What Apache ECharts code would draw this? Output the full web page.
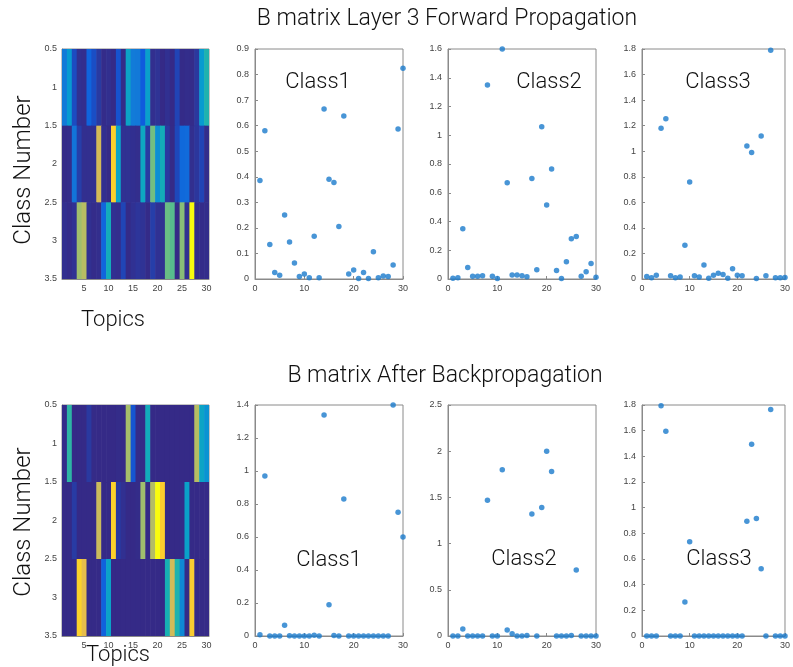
<!DOCTYPE html>
<html><head><meta charset="utf-8">
<script src="https://cdn.jsdelivr.net/npm/echarts@6/dist/echarts.min.js"></script>
<style>html,body{margin:0;padding:0;background:#fff}#c{width:793px;height:667px}</style>
</head><body><div id="c"></div>
<script>
// ---- data ----
const topics = [1,2,3,4,5,6,7,8,9,10,11,12,13,14,15,16,17,18,19,20,21,22,23,24,25,26,27,28,29,30];
const classes = [1,2,3];
const fwdClass1 = [0.385,0.58,0.135,0.025,0.015,0.25,0.145,0.063,0.01,0.02,0.005,0.167,0.005,0.665,0.39,0.378,0.205,0.638,0.02,0.035,0.002,0.025,0.002,0.107,0.005,0.012,0.01,0.055,0.587,0.825];
const fwdClass2 = [0.005,0.008,0.35,0.08,0.02,0.02,0.022,1.35,0.02,0.003,1.6,0.67,0.028,0.028,0.022,0.015,0.7,0.065,1.06,0.515,0.765,0.06,0.003,0.12,0.28,0.295,0.02,0.05,0.107,0.012];
const fwdClass3 = [0.02,0.01,0.03,1.18,1.255,0.025,0.01,0.015,0.265,0.76,0.025,0.015,0.11,0.005,0.03,0.045,0.035,0.005,0.08,0.03,0.025,1.04,0.99,0.003,1.12,0.025,1.79,0.01,0.01,0.012];
const bpClass1 = [0.008,0.97,0,0,0,0.065,0.002,0,0,0,0,0.005,0,1.34,0.19,0.003,0,0.83,0,0,0,0,0,0,0,0,0,1.4,0.75,0.6];
const bpClass2 = [0,0,0.075,0,0,0,0,1.47,0,0,1.8,0.065,0.025,0,0,0.005,1.32,0,1.39,2.0,1.78,0,0,0,0.005,0.715,0,0,0,0];
const bpClass3 = [0,0,0,1.795,1.595,0,0,0,0.265,0.735,0,0,0,0,0,0,0,0,0,0,0,0.895,1.495,0.915,0.525,0,1.765,0,0,0];
const topTitle = 'B matrix Layer 3 Forward Propagation';
const bottomTitle = 'B matrix After Backpropagation';
const classNames = ['Class1','Class2','Class3'];
const heatXTicks = [5,10,15,20,25,30];

// ---- parula colormap ----
const parula = [[0.2081,0.1663,0.5292],[0.0591,0.3598,0.8683],[0.0723,0.4887,0.8467],[0.0265,0.6137,0.8135],[0.0843,0.6928,0.7062],[0.3482,0.7424,0.5473],[0.6473,0.7456,0.4188],[0.8824,0.7274,0.3217],[0.9880,0.8066,0.1794],[0.9763,0.9831,0.0538]];
function cmap(t){
  t=Math.max(0,Math.min(1,t));
  const f=t*(parula.length-1), i=Math.min(parula.length-2,Math.floor(f)), r=f-i;
  const c=parula[i].map((v,k)=>v+(parula[i+1][k]-v)*r);
  return 'rgb('+c.map(v=>Math.round(v*255)).join(',')+')';
}

const chart = echarts.init(document.getElementById('c'));
const axisColor = '#8a8a8a';
const labelStyle = {fontSize:9,color:'#444',fontFamily:'Liberation Sans, Arial, sans-serif'};

const rows = [
  {top:49,height:230,mats:[fwdClass1,fwdClass2,fwdClass3],ymax:[0.9,1.6,1.8],yint:[0.1,0.2,0.2]},
  {top:405,height:231,mats:[bpClass1,bpClass2,bpClass3],ymax:[1.4,2.5,1.8],yint:[0.2,0.5,0.2]}
];
const colsL = [62,255,448,642];
const colsW = [147,148,148,148];

const grid=[],xAxis=[],yAxis=[],series=[];
rows.forEach((row,ri)=>{
  const gi = grid.length;
  grid.push({left:colsL[0],top:row.top,width:colsW[0],height:row.height,show:true,borderColor:axisColor,borderWidth:1,containLabel:false});
  xAxis.push({gridIndex:gi,type:'value',min:0.5,max:30.5,axisLine:{show:true,lineStyle:{color:axisColor}},splitLine:{show:false},
    axisTick:{inside:true,length:3,lineStyle:{color:axisColor},customValues:heatXTicks},
    axisLabel:{...labelStyle,margin:5,customValues:heatXTicks}});
  yAxis.push({gridIndex:gi,type:'value',min:0.5,max:3.5,interval:0.5,inverse:true,axisLine:{show:true,lineStyle:{color:axisColor}},splitLine:{show:false},
    axisTick:{inside:true,length:3,lineStyle:{color:axisColor}},axisLabel:{...labelStyle,margin:5}});
  const all = row.mats.flat();
  const vmin = Math.min(...all), vmax = Math.max(...all);
  const hdata=[];
  row.mats.forEach((m,ci)=>m.forEach((v,ti)=>hdata.push([topics[ti],classes[ci],v])));
  series.push({type:'custom',xAxisIndex:gi,yAxisIndex:gi,data:hdata,clip:true,silent:true,
    renderItem:(params,api)=>{
      const x=api.value(0),y=api.value(1),v=api.value(2);
      const p0=api.coord([x-0.5,y-0.5]),p1=api.coord([x+0.5,y+0.5]);
      const x0=Math.min(p0[0],p1[0]),y0=Math.min(p0[1],p1[1]);
      return {type:'rect',shape:{x:x0,y:y0,width:Math.abs(p1[0]-p0[0])+0.6,height:Math.abs(p1[1]-p0[1])+0.6},
        style:{fill:cmap((v-vmin)/(vmax-vmin))}};
    }});
  row.mats.forEach((m,ci)=>{
    const g = grid.length;
    grid.push({left:colsL[ci+1],top:row.top,width:colsW[ci+1],height:row.height,show:true,borderColor:axisColor,borderWidth:1});
    xAxis.push({gridIndex:g,type:'value',min:0,max:30,interval:10,axisLine:{show:true,lineStyle:{color:axisColor}},splitLine:{show:false},
      axisTick:{inside:true,length:3,lineStyle:{color:axisColor}},axisLabel:{...labelStyle,margin:5}});
    yAxis.push({gridIndex:g,type:'value',min:0,max:row.ymax[ci],interval:row.yint[ci],axisLine:{show:true,lineStyle:{color:axisColor}},splitLine:{show:false},
      axisTick:{inside:true,length:3,lineStyle:{color:axisColor}},axisLabel:{...labelStyle,margin:6}});
    series.push({type:'scatter',xAxisIndex:g,yAxisIndex:g,symbol:'circle',symbolSize:5.5,
      itemStyle:{color:'#1a7bcc'},data:m.map((v,i)=>[topics[i],v]),silent:true,clip:false});
  });
});

const bigFont = '300 22px Roboto, "Liberation Sans", sans-serif';
const axFont = '300 24px Roboto, "Liberation Sans", sans-serif';
const titleFont = '300 23px Roboto, "Liberation Sans", sans-serif';
const txt=(x,y,t,font,rot)=>({type:'text',x:x,y:y,rotation:rot||0,style:{text:t,font:font,fill:'#111',textAlign:'center',textVerticalAlign:'middle'}});
const graphic=[
  txt(447,19,topTitle,titleFont),
  txt(445,376,bottomTitle,titleFont),
  txt(24,170,'Class Number',axFont,Math.PI/2),
  txt(24,522,'Class Number',axFont,Math.PI/2),
  txt(113,320,'Topics',bigFont),
  txt(118,655,'Topics',bigFont),
  txt(318,82,classNames[0],bigFont),
  txt(549,82,classNames[1],bigFont),
  txt(718,82,classNames[2],bigFont),
  txt(329,560,classNames[0],bigFont),
  txt(524,559,classNames[1],bigFont),
  txt(719,559,classNames[2],bigFont)
];

chart.setOption({animation:false,grid,xAxis,yAxis,series,graphic});
</script></body></html>
